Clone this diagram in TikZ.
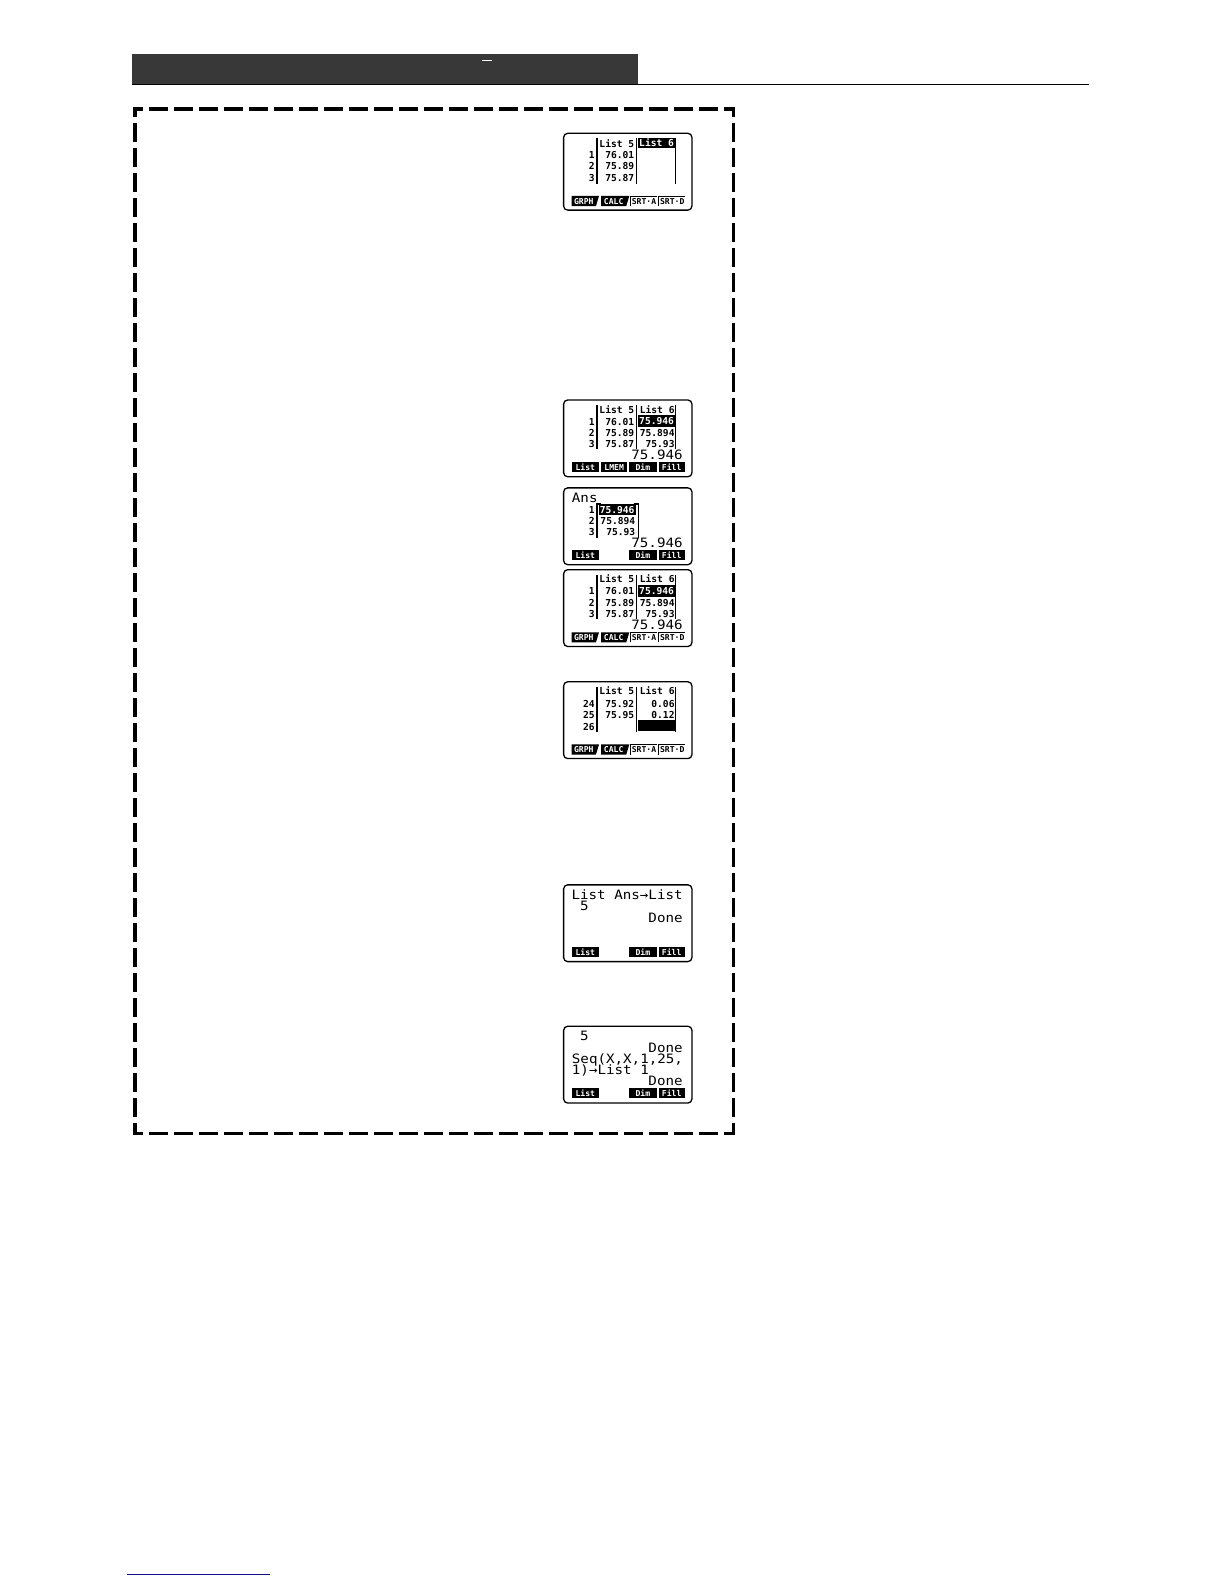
\documentclass[tikz,border=0pt]{standalone}
\usepackage{fontspec}
\setmainfont{DejaVu Sans Mono}
\newfontfamily\lcdbig[FakeStretch=1.1]{DejaVu Sans Mono}
\definecolor{footblue}{RGB}{16,16,140}
\tikzset{
 x=1.0101pt,y=-1.0101pt,
 lcdframe/.style={draw=black,line width=1.3pt,rounded corners=4pt,fill=white},
 lcdrule/.style={draw=black,line width=1.1pt},
 lcd/.style={inner sep=0pt,font=\fontsize{9.6}{9.6}\selectfont\bfseries,anchor=base east},
 lcdw/.style={inner sep=0pt,font=\fontsize{9.6}{9.6}\selectfont\bfseries,anchor=base,text=white},
 lcdk/.style={inner sep=0pt,font=\fontsize{8.1}{8.1}\selectfont\bfseries,anchor=base},
 lcdl/.style={inner sep=0pt,font=\lcdbig\fontsize{12.9}{12.9}\selectfont,anchor=base west},
 lcdr/.style={inner sep=0pt,font=\lcdbig\fontsize{12.9}{12.9}\selectfont,anchor=base east},
 framedash/.style={draw=black,line width=3.6pt,dash pattern=on 19.2pt off 5.8pt,dash phase=9.5pt},
}
% #1 screen top, #2 left, #3 right, #4 label: black key
\newcommand{\skey}[4]{\fill[black] (#2,#1+61.5) rectangle (#3,#1+71.5);
  \node[lcdk,text=white] at ({(#2+#3)/2},#1+69.5) {#4};}
% notched black key
\newcommand{\nkey}[4]{\fill[black] (#2,#1+62) -- (#3+1,#1+62) -- (#3-2,#1+72) -- (#2,#1+72) -- cycle;
  \node[lcdk,text=white] at ({(#2+#3)/2-1},#1+70) {#4};}
% open key
\newcommand{\okey}[4]{\draw[black,line width=.8pt] (#2,#1+72) -- (#2,#1+62) -- (#3,#1+62);
  \node[lcdk] at ({(#2+#3)/2+.5},#1+70) {#4};}
\newcommand{\frameat}[1]{\draw[lcdframe] (558,#1) rectangle (685,#1+76);}
\newcommand{\filekeys}[1]{\nkey{#1}{566}{592}{GRPH}\nkey{#1}{595}{622}{CALC}\okey{#1}{624}{650}{SRT·A}\okey{#1}{652}{678}{SRT·D}}
\newcommand{\listkeys}[1]{\skey{#1}{566}{593}{List}\skey{#1}{623}{650}{Dim}\skey{#1}{652}{678}{Fill}}
\newcommand{\tablelines}[2]{\draw[lcdrule] (591,#1+5) -- (591,#1+#2) (630,#1+5) -- (630,#1+#2) (669,#1+5) -- (669,#1+#2);}
\newcommand{\cell}[3]{\node[lcd] at (#2,#1) {#3};}
\begin{document}
\begin{tikzpicture}
\useasboundingbox[fill=white] (0pt,0pt) rectangle (1224pt,-1584pt);
% header
\fill[black!78] (131,53) rectangle (632,83.5);
\draw[black,line width=1pt] (131,83.5) -- (1078,83.5);
\draw[white,line width=1pt] (477,60) -- (487,60);
% dashed frame
\draw[framedash] (132,108) -- (727.5,108);
\draw[framedash] (726,106.2) -- (726,1123.5);
\draw[framedash] (133.8,106.2) -- (133.8,1123.5);
\draw[framedash] (132,1122) -- (727.5,1122);
% footer
\draw[footblue,line width=1.2pt] (126,1559) -- (267,1559);

% screen 1
\frameat{132}
\tablelines{132}{50}
\cell{146}{628}{List 5}
\fill[black] (632,137) rectangle (669,147);
\node[lcdw] at (650,145.5) {List 6};
\cell{157}{628}{76.01}\cell{168}{628}{75.89}\cell{180}{628}{75.87}
\cell{157}{589}{1}\cell{168}{589}{2}\cell{180}{589}{3}
\filekeys{132}

% screen 2
\frameat{396}
\tablelines{396}{49}
\cell{409}{628}{List 5}\cell{409}{668}{List 6}
\cell{421}{628}{76.01}\cell{432}{628}{75.89}\cell{443}{628}{75.87}
\fill[black] (632,411) rectangle (669,423);
\node[lcdw] at (650,420.5) {75.946};
\cell{432}{668}{75.894}\cell{443}{668}{75.93}
\cell{421}{589}{1}\cell{432}{589}{2}\cell{443}{589}{3}
\node[lcdr] at (676,455) {75.946};
\skey{396}{566}{593}{List}\skey{396}{595}{621}{LMEM}\skey{396}{623}{650}{Dim}\skey{396}{652}{678}{Fill}

% screen 3
\frameat{483}
\node[lcdl] at (566,497) {Ans};
\draw[lcdrule] (591,533) -- (591,499) -- (595,499) (632,533) -- (632,499) -- (628,499);
\fill[black] (593,499) rectangle (630,510);
\node[lcdw] at (611,508) {75.946};
\cell{519}{629}{75.894}\cell{530}{629}{75.93}
\cell{508}{589}{1}\cell{519}{589}{2}\cell{530}{589}{3}
\node[lcdr] at (676,542) {75.946};
\listkeys{483}

% screen 4
\frameat{564}
\tablelines{564}{49}
\cell{577}{628}{List 5}\cell{577}{668}{List 6}
\cell{589}{628}{76.01}\cell{600}{628}{75.89}\cell{611}{628}{75.87}
\fill[black] (632,579) rectangle (669,591);
\node[lcdw] at (650,588.5) {75.946};
\cell{600}{668}{75.894}\cell{611}{668}{75.93}
\cell{589}{589}{1}\cell{600}{589}{2}\cell{611}{589}{3}
\node[lcdr] at (676,623) {75.946};
\filekeys{564}

% screen 5
\frameat{675}
\tablelines{675}{50}
\cell{688}{628}{List 5}\cell{688}{668}{List 6}
\cell{700}{628}{75.92}\cell{711}{628}{75.95}
\cell{700}{668}{0.06}\cell{711}{668}{0.12}
\fill[black] (632,713) rectangle (668,724);
\cell{700}{589}{24}\cell{711}{589}{25}\cell{723}{589}{26}
\filekeys{675}

% screen 6
\frameat{876}
\node[lcdr] at (676,890) {List Ans→List};
\node[lcdl] at (574,901) {5};
\node[lcdr] at (676,913) {Done};
\listkeys{876}

% screen 7
\frameat{1016}
\node[lcdl] at (574,1030) {5};
\node[lcdr] at (676,1042) {Done};
\node[lcdl] at (566,1053) {Seq(X,X,1,25,};
\node[lcdl] at (566,1064) {1)→List 1};
\node[lcdr] at (676,1075) {Done};
\listkeys{1016}
\end{tikzpicture}
\end{document}
